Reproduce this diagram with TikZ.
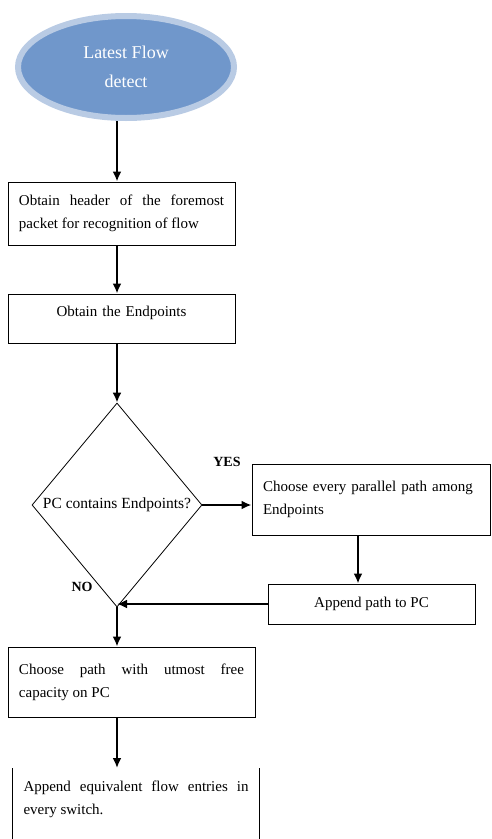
\documentclass[tikz,border=0pt]{standalone}
\usepackage{fontspec}
\setmainfont{Liberation Serif}
\usetikzlibrary{shapes.geometric,arrows.meta}
\definecolor{bulle}{RGB}{112,151,203}
\definecolor{bullebord}{RGB}{185,203,228}
\begin{document}
\begin{tikzpicture}[x=1pt,y=-1pt]
	\tikzstyle{boite}=[draw,line width=1pt,inner xsep=11pt,font=\fontsize{15}{23}\selectfont]
	\tikzstyle{losange}=[draw,diamond,line width=0.8pt,minimum width=170pt,minimum height=204pt,inner sep=0pt]
	\tikzstyle{fleche}=[line width=2.2pt,-{Latex[length=10pt,width=9pt]}]
	\tikzstyle{reponse}=[font=\fontsize{14}{16}\selectfont\bfseries]
	\useasboundingbox (0,0) rectangle (492,839);
	\node[ellipse,fill=bulle,draw=bullebord,line width=6pt,minimum width=216pt,minimum height=102pt,text=white,align=center,font=\fontsize{18}{29}\selectfont] (debut) at (126,67) {Latest Flow\\detect}; % haut
	\node[boite,text width=205pt,align=justify,minimum height=63pt] (entete) at (121.5,213.5) {Obtain header of the foremost\linebreak packet for recognition of flow};
	\node[boite,text width=205pt,align=center,minimum height=49pt,text depth=15pt] (extremites) at (121.5,318.5) {Obtain the Endpoints};
	\node[losange,label={[font=\fontsize{15.5}{18}\selectfont]center:PC contains Endpoints?}] (test) at (117,505) {};
	\node[boite,text width=216pt,align=left,minimum height=71pt] (paralleles) at (371,499.5) {Choose every parallel path among\\Endpoints}; % droite
	\node[boite,minimum width=207pt,minimum height=40pt] (ajout) at (371.5,604) {Append path to PC};
	\node[boite,text width=225pt,align=justify,minimum height=70pt] (choix) at (131.5,682) {Choose path with utmost free\linebreak capacity on PC};
	\node[font=\fontsize{15}{23}\selectfont,text width=225pt,align=justify,inner xsep=11pt,inner ysep=13pt,anchor=north] (entrees) at (136,768) {Append equivalent flow entries in\linebreak every switch.}; % bas
	\draw[line width=1pt] (entrees.north west) -- ++(0,75);
	\draw[line width=1pt] (entrees.north east) -- ++(0,75);
	\node[reponse] (oui) at (227,462) {YES};
	\node[reponse] (non) at (82,587) {NO};
	\draw[fleche] (debut.south -| test) -- (entete.north -| test);
	\draw[fleche] (entete.south -| test) -- (extremites.north -| test);
	\draw[fleche] (extremites.south -| test) -- (test.north);
	\draw[fleche] (test.east) -- (paralleles.west |- test.east);
	\draw[fleche] ([xshift=-13pt]paralleles.south) -- ([xshift=-13pt]paralleles.south |- ajout.north);
	\draw[fleche] (ajout.west) -- (ajout.west -| test.south);
	\draw[fleche] (test.south) -- (choix.north -| test);
	\draw[fleche] (choix.south -| test) -- (entrees.north -| test);
\end{tikzpicture}
\end{document}
